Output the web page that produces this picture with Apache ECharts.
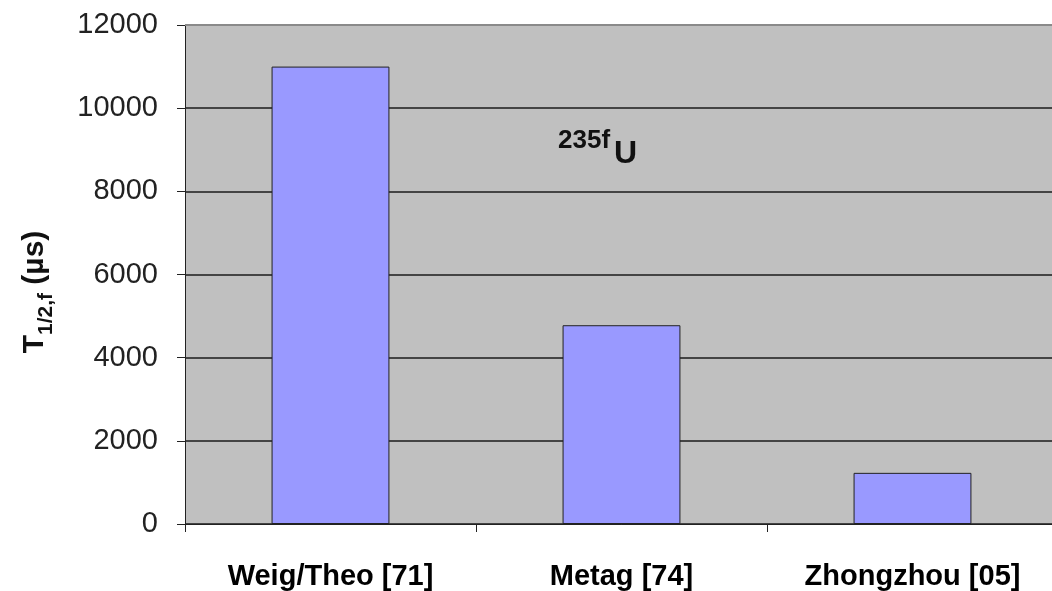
<!DOCTYPE html>
<html><head><meta charset="utf-8">
<script src="https://cdn.jsdelivr.net/npm/echarts@6/dist/echarts.min.js"></script>
<style>html,body{margin:0;padding:0;background:#fff;overflow:hidden}#c{width:1058px;height:591px}</style>
</head><body><div id="c"></div>
<script>
const categories = ['Weig/Theo [71]', 'Metag [74]', 'Zhongzhou [05]'];
const halfLives = [11000, 4780, 1230];
const yTicks = [0, 2000, 4000, 6000, 8000, 10000, 12000];

const chart = echarts.init(document.getElementById('c'));
chart.setOption({
  animation: false,
  grid: { left: 185, top: 25, bottom: 66, right: 0, show: true, backgroundColor: '#c0c0c0', borderWidth: 0 },
  xAxis: {
    type: 'category', data: categories,
    axisLine: { lineStyle: { color: '#222', width: 1 } },
    axisTick: { show: true, length: 8, lineStyle: { color: '#222' } },
    axisLabel: { fontFamily: 'Liberation Sans', fontWeight: 'bold', fontSize: 29, color: '#000', margin: 38 }
  },
  yAxis: {
    type: 'value', min: yTicks[0], max: yTicks[yTicks.length - 1], interval: 2000,
    axisLine: { show: true, lineStyle: { color: '#222', width: 1 } },
    axisTick: { show: true, length: 8, inside: false, lineStyle: { color: '#222' } },
    axisLabel: { fontFamily: 'Liberation Sans', fontSize: 29, color: '#222', margin: 27, formatter: v => String(v) },
    splitLine: { show: true, lineStyle: { color: '#444', width: 2 } }
  },
  series: [{
    type: 'bar', data: halfLives, barWidth: '40.5%',
    itemStyle: { color: '#9999ff', borderColor: '#222', borderWidth: 1 }
  }],
  graphic: [{
    type: 'line', shape: { x1: 185, y1: 25, x2: 1058, y2: 25 }, style: { stroke: '#8a8a8a', lineWidth: 2 }, z: 10
  }, {
    type: 'text', x: 33, y: 292, rotation: Math.PI / 2, z: 10,
    style: {
      text: '{b|T}{s|1/2,f}{b| (µs)}', align: 'center', verticalAlign: 'middle',
      rich: {
        b: { fontFamily: 'Liberation Sans', fontWeight: 'bold', fontSize: 30, fill: '#111', verticalAlign: 'bottom', lineHeight: 34 },
        s: { fontFamily: 'Liberation Sans', fontWeight: 'bold', fontSize: 21, fill: '#111', verticalAlign: 'bottom', lineHeight: 24, padding: [0, 0, -7, 0] }
      }
    }
  }, {
    type: 'text', x: 558, y: 141, z: 10,
    style: { text: '235f', fontFamily: 'Liberation Sans', fontWeight: 'bold', fontSize: 26, fill: '#111', verticalAlign: 'middle' }
  }, {
    type: 'text', x: 614, y: 154, z: 10,
    style: { text: 'U', fontFamily: 'Liberation Sans', fontWeight: 'bold', fontSize: 32, fill: '#111', verticalAlign: 'middle' }
  }]
});
</script></body></html>
